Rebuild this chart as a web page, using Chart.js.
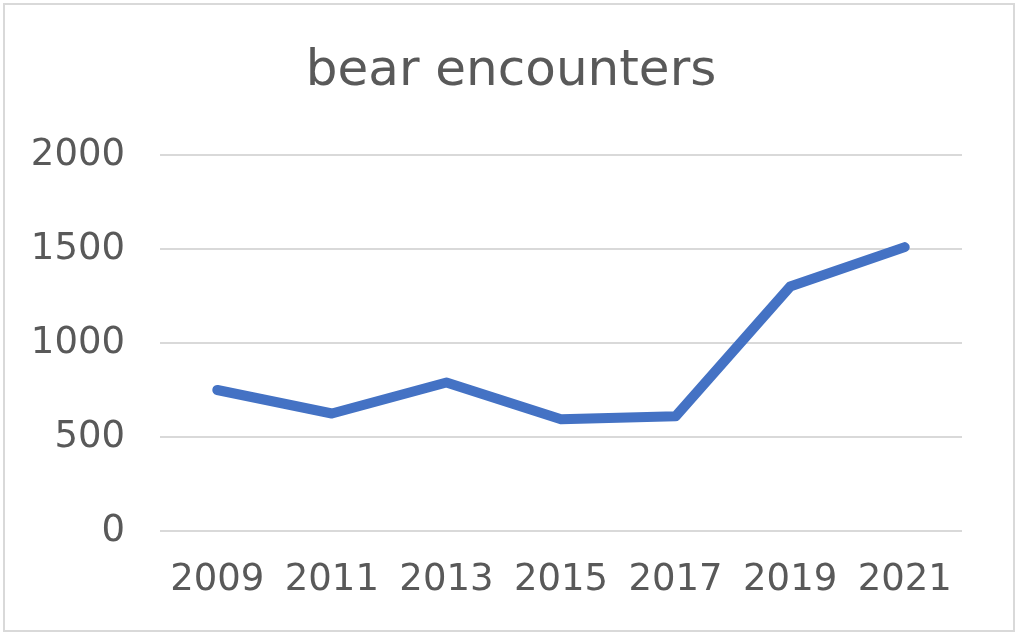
<!DOCTYPE html>
<html>
<head>
<meta charset="utf-8">
<script src="https://cdn.jsdelivr.net/npm/chart.js@4"></script>
<style>
  html, body { margin: 0; padding: 0; background: #fff; }
  #frame {
    position: absolute; left: 3px; top: 3px;
    width: 1008px; height: 625px;
    border: 2px solid #d9d9d9;
  }
  #wrap { position: absolute; left: 0; top: 0; width: 1022px; height: 637px; }
</style>
</head>
<body>
<div id="frame"></div>
<div id="wrap"><canvas id="bearChart"></canvas></div>
<script>
const years = ['2009', '2011', '2013', '2015', '2017', '2019', '2021'];
const encounters = [750, 625, 790, 595, 610, 1300, 1510];
const yTicks = [0, 500, 1000, 1500, 2000];

const textColor = '#595959';
const gridColor = '#d9d9d9';

// draw the chart
const ctx = document.getElementById('bearChart').getContext('2d');
new Chart(ctx, {
    type: 'line',
    data: {
        labels: years,
        datasets: [{
            label: 'bear encounters',
            data: encounters,
            borderColor: '#4472c4',
            borderWidth: 10,
            borderCapStyle: 'round',
            borderJoinStyle: 'round',
            pointRadius: 0,
            tension: 0,
            fill: false
        }]
    },
    options: {
        responsive: true,
        maintainAspectRatio: false,
        animation: false,
        layout: { padding: 0 },
        plugins: {
            legend: { display: false },
            tooltip: { enabled: false },
            title: {
                display: true,
                text: 'bear encounters',
                color: textColor,
                font: { family: 'DejaVu Sans', size: 50, weight: 'normal', lineHeight: 1.2 },
                padding: { top: 42, bottom: 53 }
            }
        },
        scales: {
            x: {
                offset: true,
                grid: { display: false, drawTicks: false },
                border: { display: false },
                ticks: {
                    color: textColor,
                    padding: 27,
                    maxRotation: 0,
                    font: { family: 'DejaVu Sans', size: 37 }
                },
                afterFit: s => { s.height = 106; }
            },
            y: {
                min: 0,
                max: 2000,
                grid: { color: gridColor, lineWidth: 2, drawTicks: false },
                border: { display: false },
                afterBuildTicks: s => { s.ticks = yTicks.map(v => ({ value: v })); },
                ticks: {
                    color: textColor,
                    padding: 35,
                    font: { family: 'DejaVu Sans', size: 37 },
                    callback: v => String(v)
                },
                afterFit: s => { s.width = 160; }
            },
            // empty right-hand axis, only keeps the right margin
            yRight: {
                position: 'right',
                display: true,
                grid: { display: false, drawTicks: false },
                border: { display: false },
                ticks: { display: false },
                afterFit: s => { s.width = 60; }
            }
        }
    }
});
</script>
</body>
</html>
